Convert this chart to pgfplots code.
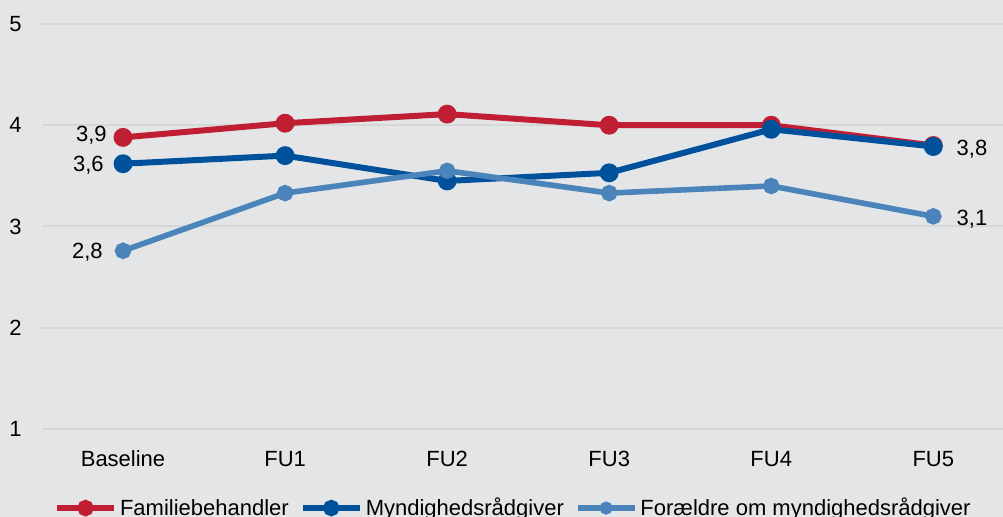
\documentclass[border=0pt]{standalone}
\usepackage{pgfplots}
\pgfplotsset{compat=1.18}
\usepackage{fontspec}
\setmainfont{Liberation Sans}
\definecolor{bg}{HTML}{E4E5E7}
\definecolor{gridc}{HTML}{D6D7D9}
\definecolor{cred}{HTML}{C01F33}
\definecolor{cblue}{HTML}{00519C}
\definecolor{clight}{HTML}{4A84BA}
\begin{document}
\begin{tikzpicture}[font=\fontsize{11bp}{13bp}\selectfont]
\fill[bg] (0,0) rectangle (501.5bp,258.5bp);
\useasboundingbox (0,0) rectangle (501.5bp,258.5bp);
\begin{axis}[
  at={(21bp,44bp)}, anchor=south west,
  scale only axis, width=480.5bp, height=202.5bp,
  xmin=-0.5, xmax=5.43, ymin=1, ymax=5,
  xtick={0,1,2,3,4,5},
  xticklabels={Baseline,FU1,FU2,FU3,FU4,FU5},
  ytick={1,2,3,4,5},
  axis line style={draw=none},
  major tick length=0pt,
  ymajorgrids, grid style={gridc, line width=1bp},
  xticklabel style={anchor=base, inner sep=0pt, yshift=-18.5bp},
  yticklabel style={anchor=east, inner sep=0pt, xshift=-10bp},
  /pgf/number format/assume math mode=true,
  clip=false,
  legend columns=3,
  legend style={draw=none, fill=none, inner sep=0pt, outer sep=0pt,
    at={(axis description cs:0.0125,-0.1963)}, anchor=west,
    nodes={inner sep=0pt, anchor=base west},
    /tikz/every odd column/.append style={column sep=1.5bp},
    /tikz/every even column/.append style={column sep=5.5bp}},
  legend cell align=left,
]
\addplot[cred, line width=3bp, mark=*, mark size=3.2bp, mark options={solid},
  legend image code/.code={\draw[line width=3bp] (0bp,3.9bp) -- (28.5bp,3.9bp); \fill (14.25bp,3.9bp) circle (2.6bp);}]
  coordinates {(0,3.88) (1,4.02) (2,4.11) (3,4.00) (4,4.00) (5,3.80)};
\addlegendentry{Familiebehandler}
\addplot[cblue, line width=3bp, mark=*, mark size=3.2bp, mark options={solid},
  legend image code/.code={\draw[line width=3bp] (0bp,3.9bp) -- (28.5bp,3.9bp); \fill (14.25bp,3.9bp) circle (2.6bp);}]
  coordinates {(0,3.62) (1,3.70) (2,3.45) (3,3.53) (4,3.96) (5,3.79)};
\addlegendentry{Myndighedsrådgiver}
\addplot[clight, line width=2.8bp, mark=*, mark size=2.7bp, mark options={solid},
  legend image code/.code={\draw[line width=2.8bp] (0bp,3.9bp) -- (28.5bp,3.9bp); \fill (14.25bp,3.9bp) circle (1.8bp);}]
  coordinates {(0,2.76) (1,3.33) (2,3.55) (3,3.33) (4,3.40) (5,3.10)};
\addlegendentry{Forældre om myndighedsrådgiver}
\node[anchor=base east, inner sep=0pt, xshift=-8bp, yshift=-1.9bp] at (axis cs:0,3.88) {3,9};
\node[anchor=base east, inner sep=0pt, xshift=-9.5bp, yshift=-3.9bp] at (axis cs:0,3.62) {3,6};
\node[anchor=base east, inner sep=0pt, xshift=-10bp, yshift=-4.1bp] at (axis cs:0,2.76) {2,8};
\node[anchor=base west, inner sep=0pt, xshift=11.5bp, yshift=-4.7bp] at (axis cs:5,3.79) {3,8};
\node[anchor=base west, inner sep=0pt, xshift=11.5bp, yshift=-4.5bp] at (axis cs:5,3.10) {3,1};
\end{axis}
\end{tikzpicture}
\end{document}
